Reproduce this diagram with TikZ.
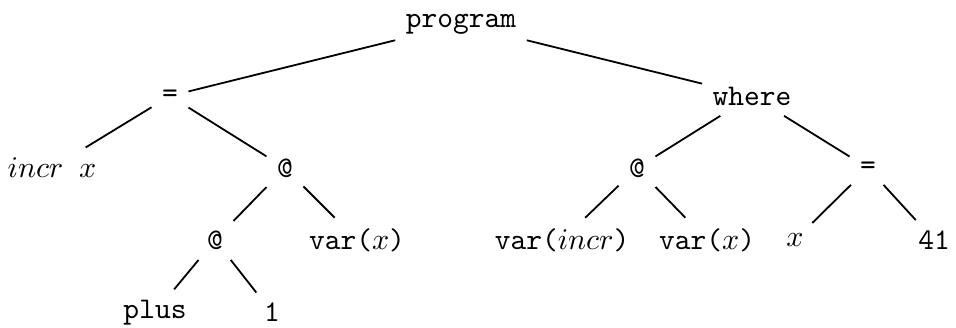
\documentclass[tikz,border=0pt]{standalone}
\usepackage{tikz}
\tikzset{tnode/.style={font=\ttfamily}}
\begin{document}
\begin{tikzpicture}
        \useasboundingbox (0,0) rectangle (11.194,3.829);
    %level 1 and 2
    \node[tnode] (prog) at (5.398,3.548) {program};
    \node[tnode] (eq) at (1.991,2.705) {=};
    \node[tnode] (where) at (8.806,2.705) {where};
    %level 3
    \node[tnode] (incrx) at (0.609,1.862) {$incr~x$};
    \node[tnode] (app) at (3.337,1.862) {@};
    \node[tnode] (appw) at (7.459,1.862) {@};
    \node[tnode] (eqw) at (10.164,1.862) {=};
    %level 4
    \node[tnode] (appl) at (2.518,1.019) {@};
    \node[tnode] (varx) at (4.180,1.019) {var($x$)};
    \node[tnode] (varincr) at (6.581,1.019) {var($incr$)};
    \node[tnode] (varxw) at (8.279,1.019) {var($x$)};
    \node[tnode] (xw) at (9.309,1.019) {$x$};
    \node[tnode] (num) at (10.937,1.019) {41};
    %level 5
    \node[tnode] (plus) at (1.815,0.170) {plus};
    \node[tnode] (one) at (3.185,0.170) {1};
    %edges
    \foreach \a/\b in {prog/eq, prog/where, eq/incrx, eq/app, app/appl, app/varx,
        appl/plus, appl/one, where/appw, where/eqw, appw/varincr, appw/varxw,
        eqw/xw, eqw/num}
        \draw[semithick] (\a) -- (\b);
        \end{tikzpicture}
\end{document}
